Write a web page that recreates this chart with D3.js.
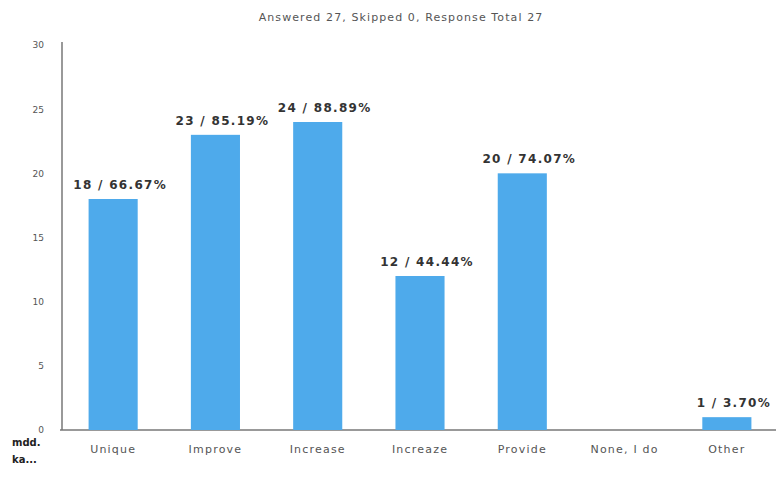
<!DOCTYPE html>
<html>
<head>
<meta charset="utf-8">
<script src="https://cdn.jsdelivr.net/npm/d3@7"></script>
<style>
  html, body { margin: 0; padding: 0; background: #fff; }
  svg { display: block; }
</style>
</head>
<body>
<svg id="chart" width="776" height="491"></svg>
<script>
// Survey response counts per answer option
const categories = ["Unique", "Improve", "Increase", "Increaze", "Provide", "None, I do", "Other"];
const counts = [18, 23, 24, 12, 20, 0, 1];
const percents = ["66.67%", "85.19%", "88.89%", "44.44%", "74.07%", "0.00%", "3.70%"];
const yTicks = [0, 5, 10, 15, 20, 25, 30];
const title = "Answered 27, Skipped 0, Response Total 27";
const legendStubs = ["mdd.", "ka..."];

const svg = d3.select("#chart");
const margin = { left: 62, right: 0, top: 45, bottom: 61 };
const W = 776, H = 491;
const font = "DejaVu Sans, Verdana, sans-serif";

const x = d3.scaleBand()
  .domain(categories)
  .range([margin.left, W - margin.right + 2])
  .paddingInner(0.52)
  .paddingOuter(0.26);

const y = d3.scaleLinear()
  .domain([0, 30])
  .range([H - margin.bottom, margin.top]);

// Title
svg.append("text")
  .attr("x", 401).attr("y", 21)
  .attr("text-anchor", "middle")
  .attr("font-family", font)
  .attr("font-size", 11)
  .attr("letter-spacing", 1.1)
  .attr("fill", "#555")
  .text(title);

// Y axis
const yAxis = svg.append("g")
  .attr("transform", `translate(${margin.left},0)`)
  .call(d3.axisLeft(y).tickValues(yTicks).tickSize(0).tickPadding(18));
yAxis.select(".domain").attr("stroke", "#777").attr("stroke-width", 1.5)
  .attr("d", `M0,${y(30) - 3}V${y(0)}`);
yAxis.selectAll("text")
  .attr("font-family", font)
  .attr("font-size", 9)
  .attr("fill", "#555");

// X axis
const xAxis = svg.append("g")
  .attr("transform", `translate(0,${y(0)})`)
  .call(d3.axisBottom(x).tickSize(0).tickPadding(15));
xAxis.select(".domain").attr("stroke", "#777").attr("stroke-width", 1.5)
  .attr("d", `M${margin.left - 2},0H${W}`);
xAxis.selectAll("text")
  .attr("font-family", font)
  .attr("font-size", 11)
  .attr("letter-spacing", 1.2)
  .attr("fill", "#555");

// Bars
svg.append("g").selectAll("rect")
  .data(categories)
  .join("rect")
  .attr("x", d => x(d))
  .attr("width", x.bandwidth())
  .attr("y", (d, i) => y(counts[i]))
  .attr("height", (d, i) => y(0) - y(counts[i]))
  .attr("fill", "#4eaaeb");

// Value labels
svg.append("g").selectAll("text")
  .data(categories.filter((d, i) => counts[i] > 0))
  .join("text")
  .attr("x", d => x(d) + x.bandwidth() / 2 + 7)
  .attr("y", d => y(counts[categories.indexOf(d)]) - 10)
  .attr("text-anchor", "middle")
  .attr("font-family", font)
  .attr("font-weight", "bold")
  .attr("font-size", 12)
  .attr("letter-spacing", 1.3)
  .attr("fill", "#333")
  .text(d => {
    const i = categories.indexOf(d);
    return `${counts[i]} / ${percents[i]}`;
  });

// Truncated legend entries at bottom-left
svg.append("g").selectAll("text")
  .data(legendStubs)
  .join("text")
  .attr("x", 12)
  .attr("y", (d, i) => 446 + i * 17)
  .attr("font-family", font)
  .attr("font-weight", "bold")
  .attr("font-size", 10)
  .attr("fill", "#222")
  .text(d => d);
</script>
</body>
</html>
